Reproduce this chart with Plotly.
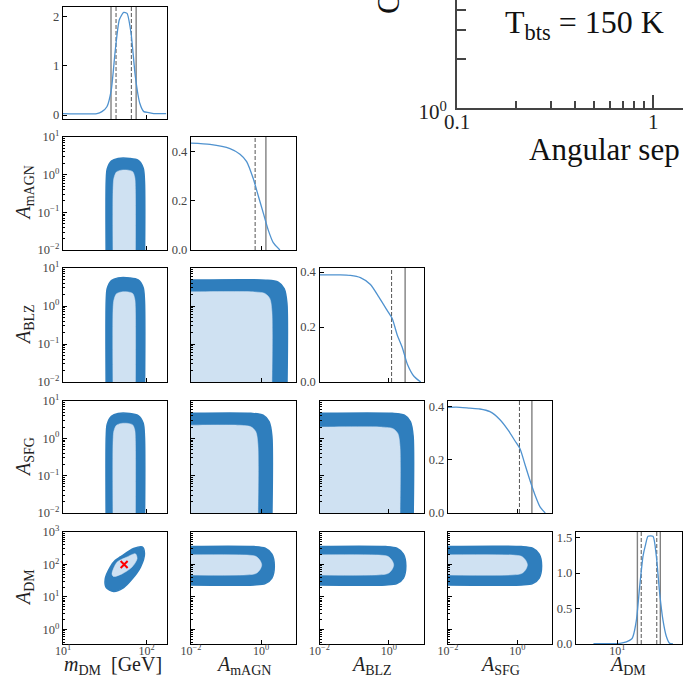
import numpy as np
import plotly.graph_objects as go

# ---------------- marginal posteriors (log10 of parameter, density) ----------------
mdm_log = [1.0, 1.406, 1.466, 1.526, 1.578, 1.627, 1.675, 1.727, 1.767, 1.815, 1.867, 1.92, 1.968, 2.028, 2.088, 2.237]
mdm_pdf = [0.03, 0.03, 0.07, 0.17, 0.51, 1.33, 1.94, 2.09, 2.07, 1.67, 0.78, 0.24, 0.07, 0.05, 0.03, 0.03]

amagn_log = [-2.0, -1.457, -0.886, -0.6, -0.41, -0.22, -0.077, 0.066, 0.21, 0.35, 0.54]
amagn_pdf = [0.435, 0.43, 0.413, 0.39, 0.36, 0.29, 0.22, 0.15, 0.08, 0.03, 0.0]

ablz_log = [-2.0, -1.4, -1.11, -0.82, -0.53, -0.29, -0.045, 0.1, 0.245, 0.39, 0.535, 0.73, 0.92]
ablz_pdf = [0.39, 0.39, 0.388, 0.38, 0.355, 0.31, 0.26, 0.23, 0.17, 0.125, 0.065, 0.02, 0.0]

asfg_log = [-2.0, -1.76, -1.37, -1.08, -0.79, -0.5, -0.26, -0.065, 0.08, 0.225, 0.37, 0.515, 0.66, 0.805]
asfg_pdf = [0.396, 0.397, 0.393, 0.39, 0.38, 0.35, 0.31, 0.27, 0.24, 0.18, 0.12, 0.066, 0.022, 0.0]

adm_log = [0.63, 1.04, 1.14, 1.22, 1.243, 1.295, 1.346, 1.397, 1.438, 1.474, 1.551, 1.603, 1.654, 1.705, 1.757, 1.808, 1.86]
adm_pdf = [0.005, 0.01, 0.03, 0.07, 0.11, 0.34, 0.82, 1.24, 1.41, 1.52, 1.52, 1.24, 0.72, 0.34, 0.11, 0.01, 0.0]

# credible-interval bounds (dashed = 68 %, solid = 95 %)
mdm_q68 = [43.2, 65.9]
mdm_q95 = [37.6, 75.2]
amagn_q68 = [0.68]
amagn_q95 = [1.38]
ablz_q68 = [1.2]
ablz_q95 = [2.95]
asfg_q68 = [1.15]
asfg_q95 = [2.63]
adm_q68 = [23.4, 40.7]
adm_q95 = [20.4, 46.2]

# best-fit point in the (m_DM, A_DM) plane
bestfit_mdm = [54.0]
bestfit_adm = [100.0]

# ---------------- 2D credible regions (log10 coordinates) ----------------
# m_DM columns: vertical bands
mdm_band95_x = [1.518, 1.518, 1.53, 1.58, 1.66, 1.80, 1.90, 1.96, 1.976, 1.976]
mdm_band68_x = [1.60, 1.60, 1.61, 1.64, 1.70, 1.78, 1.835, 1.86, 1.867, 1.867]
amagn_mdm95_y = [-2.5, -0.17, 0.15, 0.36, 0.43, 0.43, 0.38, 0.18, -0.17, -2.5]
amagn_mdm68_y = [-2.5, -0.37, -0.09, 0.07, 0.12, 0.12, 0.08, -0.07, -0.37, -2.5]
ablz_mdm95_y = [-2.5, 0.15, 0.46, 0.67, 0.74, 0.74, 0.69, 0.49, 0.15, -2.5]
ablz_mdm68_y = [-2.5, -0.05, 0.16, 0.32, 0.37, 0.37, 0.33, 0.18, -0.05, -2.5]
asfg_mdm95_y = [-2.5, 0.05, 0.38, 0.59, 0.665, 0.665, 0.61, 0.41, 0.05, -2.5]
asfg_mdm68_y = [-2.5, -0.05, 0.20, 0.35, 0.40, 0.40, 0.36, 0.22, -0.05, -2.5]

# tilted ellipse in (m_DM, A_DM)
adm_mdm95_x = [1.506, 1.566, 1.627, 1.687, 1.847, 1.948, 1.976, 1.928, 1.827, 1.727, 1.606, 1.518, 1.506]
adm_mdm95_y = [1.55, 1.92, 2.125, 2.23, 2.49, 2.54, 2.33, 1.92, 1.55, 1.29, 1.17, 1.29, 1.55]
adm_mdm68_x = [1.587, 1.647, 1.767, 1.867, 1.888, 1.827, 1.707, 1.606, 1.587]
adm_mdm68_y = [1.71, 2.07, 2.23, 2.33, 2.18, 1.92, 1.71, 1.63, 1.71]

# amplitude-amplitude planes: regions open towards small amplitudes
ablz_amagn95_x = [-2.6, -2.6, -2.3, 0.14, 0.49, 0.66, 0.74, 0.74, 0.74, -2.6]
ablz_amagn95_y = [-2.6, 0.68, 0.68, 0.68, 0.63, 0.46, 0.08, -2.3, -2.6, -2.6]
ablz_amagn68_x = [-2.6, -2.6, -2.3, -0.19, 0.11, 0.25, 0.31, 0.31, 0.31, -2.6]
ablz_amagn68_y = [-2.6, 0.37, 0.37, 0.37, 0.33, 0.20, -0.13, -2.3, -2.6, -2.6]

asfg_amagn95_x = [-2.6, -2.6, -2.3, -0.29, 0.06, 0.23, 0.31, 0.31, 0.31, -2.6]
asfg_amagn95_y = [-2.6, 0.67, 0.67, 0.67, 0.62, 0.45, 0.07, -2.3, -2.6, -2.6]
asfg_amagn68_x = [-2.6, -2.6, -2.3, -0.59, -0.29, -0.15, -0.09, -0.09, -0.09, -2.6]
asfg_amagn68_y = [-2.6, 0.35, 0.35, 0.35, 0.31, 0.18, -0.15, -2.3, -2.6, -2.6]

asfg_ablz95_x = [-2.6, -2.6, -2.3, 0.10, 0.45, 0.62, 0.70, 0.70, 0.70, -2.6]
asfg_ablz95_y = [-2.6, 0.67, 0.67, 0.67, 0.62, 0.45, 0.07, -2.3, -2.6, -2.6]
asfg_ablz68_x = [-2.6, -2.6, -2.3, -0.18, 0.12, 0.26, 0.32, 0.32, 0.32, -2.6]
asfg_ablz68_y = [-2.6, 0.30, 0.30, 0.30, 0.26, 0.13, -0.20, -2.3, -2.6, -2.6]

# A_DM rows: horizontal bands
adm_band95_y = [2.55, 2.55, 2.50, 2.32, 1.96, 1.58, 1.41, 1.37, 1.37]
adm_band68_y = [2.29, 2.29, 2.25, 2.13, 1.985, 1.84, 1.72, 1.68, 1.68]
adm_amagn95_x = [-2.5, -0.20, 0.12, 0.31, 0.38, 0.31, 0.12, -0.20, -2.5]
adm_amagn68_x = [-2.5, -0.40, -0.15, -0.03, 0.02, -0.03, -0.15, -0.40, -2.5]
adm_ablz95_x = [-2.5, -0.09, 0.23, 0.42, 0.49, 0.42, 0.23, -0.09, -2.5]
adm_ablz68_x = [-2.5, -0.28, -0.03, 0.09, 0.14, 0.09, -0.03, -0.28, -2.5]
adm_asfg95_x = [-2.5, 0.12, 0.44, 0.63, 0.70, 0.63, 0.44, 0.12, -2.5]
adm_asfg68_x = [-2.5, -0.13, 0.12, 0.24, 0.29, 0.24, 0.12, -0.13, -2.5]

# ---------------- parameter labels and axis ticks ----------------
param_titles = ["<i>m</i><sub>DM</sub>  [GeV]", "<i>A</i><sub>mAGN</sub>", "<i>A</i><sub>BLZ</sub>",
                "<i>A</i><sub>SFG</sub>", "<i>A</i><sub>DM</sub>"]
param_range = [[1.0, 2.24], [-2.0, 1.0], [-2.0, 1.0], [-2.0, 1.0], [-0.45, 3.0]]
x_tickvals = [[10, 100], [0.01, 1], [0.01, 1], [0.01, 1], [10, 100]]
x_ticktext = [["10<sup>1</sup>", "10<sup>2</sup>"], ["10<sup>−2</sup>", "10<sup>0</sup>"],
              ["10<sup>−2</sup>", "10<sup>0</sup>"], ["10<sup>−2</sup>", "10<sup>0</sup>"],
              ["10<sup>1</sup>", "10<sup>2</sup>"]]
y_tickvals = [None, [0.01, 0.1, 1, 10], [0.01, 0.1, 1, 10], [0.01, 0.1, 1, 10], [1, 10, 100, 1000]]
y_ticktext = [None,
              ["10<sup>−2</sup>", "10<sup>−1</sup>", "10<sup>0</sup>", "10<sup>1</sup>"],
              ["10<sup>−2</sup>", "10<sup>−1</sup>", "10<sup>0</sup>", "10<sup>1</sup>"],
              ["10<sup>−2</sup>", "10<sup>−1</sup>", "10<sup>0</sup>", "10<sup>1</sup>"],
              ["10<sup>0</sup>", "10<sup>1</sup>", "10<sup>2</sup>", "10<sup>3</sup>"]]
hist_x_range4 = [0.36, 2.0]
hist_y_range = [[-0.08, 2.2], [0, 0.46], [0, 0.415], [0, 0.42], [0, 1.58]]
hist_y_ticks = [[0, 1, 2], [0, 0.2, 0.4], [0, 0.2, 0.4], [0, 0.2, 0.4], [0, 0.5, 1.0, 1.5]]
hist_y_text = [["0", "1", "2"], ["0.0", "0.2", "0.4"], ["0.0", "0.2", "0.4"], ["0.0", "0.2", "0.4"],
               ["0.0", "0.5", "1.0", "1.5"]]

# ---------------- angular cross-correlation panel (partial) ----------------
ang_x_range = [0.1, 1.42]
ang_y_range = [1.0, 4.6]
ang_x_ticks = [0.1, 1]
ang_x_text = ["0.1", "1"]
ang_x_minor = [0.2, 0.3, 0.4, 0.5, 0.6, 0.7, 0.8, 0.9]
ang_y_ticks = [1]
ang_y_text = ["10<sup>0</sup>"]
ang_y_minor = [2, 3, 4]

# ---------------- styling ----------------
W, H = 683, 680
COLS = [(63, 166.5), (191, 296), (319.5, 423.5), (448, 552), (576, 682)]
ROWS = [(7, 119), (137, 250), (268, 382), (401, 513), (532, 644)]
DARK = "#2f7ebd"
LIGHT = "#cfe1f2"
HISTC = "#4f92cf"
FONT = "Liberation Serif"
TICKC = "#444444"

fig = go.Figure()

axis_id = {}
k = 0
for r in range(5):
    for c in range(r + 1):
        k += 1
        axis_id[(r, c)] = k


def refs(r, c):
    i = axis_id[(r, c)]
    return ("x" if i == 1 else f"x{i}"), ("y" if i == 1 else f"y{i}")


def logv(a):
    return 10 ** np.asarray(a, dtype=float)


# diagonal: marginal posteriors
hists = [(mdm_log, mdm_pdf, mdm_q68, mdm_q95), (amagn_log, amagn_pdf, amagn_q68, amagn_q95),
         (ablz_log, ablz_pdf, ablz_q68, ablz_q95), (asfg_log, asfg_pdf, asfg_q68, asfg_q95),
         (adm_log, adm_pdf, adm_q68, adm_q95)]
for d, (xl, pdf, q68, q95) in enumerate(hists):
    xr, yr = refs(d, d)
    lo, hi = hist_y_range[d]
    for q in q95:
        fig.add_trace(go.Scatter(x=[q, q], y=[lo, hi], xaxis=xr, yaxis=yr, mode="lines",
                                 line=dict(color="#808080", width=1.4), hoverinfo="skip"))
    for q in q68:
        fig.add_trace(go.Scatter(x=[q, q], y=[lo, hi], xaxis=xr, yaxis=yr, mode="lines",
                                 line=dict(color="#555555", width=1, dash="4px,2px"), hoverinfo="skip"))
    fig.add_trace(go.Scatter(x=logv(xl), y=pdf, xaxis=xr, yaxis=yr, mode="lines",
                             line=dict(color=HISTC, width=1.3, shape="spline", smoothing=0.6)))

# off-diagonal: 68 / 95 % regions
regions = {
    (1, 0): (mdm_band95_x, amagn_mdm95_y, mdm_band68_x, amagn_mdm68_y),
    (2, 0): (mdm_band95_x, ablz_mdm95_y, mdm_band68_x, ablz_mdm68_y),
    (3, 0): (mdm_band95_x, asfg_mdm95_y, mdm_band68_x, asfg_mdm68_y),
    (4, 0): (adm_mdm95_x, adm_mdm95_y, adm_mdm68_x, adm_mdm68_y),
    (2, 1): (ablz_amagn95_x, ablz_amagn95_y, ablz_amagn68_x, ablz_amagn68_y),
    (3, 1): (asfg_amagn95_x, asfg_amagn95_y, asfg_amagn68_x, asfg_amagn68_y),
    (3, 2): (asfg_ablz95_x, asfg_ablz95_y, asfg_ablz68_x, asfg_ablz68_y),
    (4, 1): (adm_amagn95_x, adm_band95_y, adm_amagn68_x, adm_band68_y),
    (4, 2): (adm_ablz95_x, adm_band95_y, adm_ablz68_x, adm_band68_y),
    (4, 3): (adm_asfg95_x, adm_band95_y, adm_asfg68_x, adm_band68_y),
}
for (r, c), (ox, oy, ix, iy) in regions.items():
    xr, yr = refs(r, c)
    fig.add_trace(go.Scatter(x=logv(ox), y=logv(oy), xaxis=xr, yaxis=yr, mode="lines", fill="toself",
                             fillcolor=DARK, line=dict(color=DARK, width=1.5, shape="spline", smoothing=0.8),
                             hoverinfo="skip"))
    fig.add_trace(go.Scatter(x=logv(ix), y=logv(iy), xaxis=xr, yaxis=yr, mode="lines", fill="toself",
                             fillcolor=LIGHT, line=dict(color=LIGHT, width=0.5, shape="spline", smoothing=0.8),
                             hoverinfo="skip"))

xr, yr = refs(4, 0)
fig.add_trace(go.Scatter(x=bestfit_mdm, y=bestfit_adm, xaxis=xr, yaxis=yr, mode="markers",
                         marker=dict(symbol="x-thin", size=7, color="red", line=dict(color="red", width=2))))

# invisible anchor trace so the angular panel's axes are drawn
fig.add_trace(go.Scatter(x=ang_x_range, y=ang_y_range, xaxis="x16", yaxis="y16", mode="markers",
                         marker=dict(opacity=0), hoverinfo="skip"))

# axes of the corner plot
frame = dict(showline=True, mirror=True, linecolor="black", linewidth=1.3, ticks="inside",
             ticklen=4, tickwidth=1, tickcolor="black", showgrid=False, zeroline=False,
             tickfont=dict(family=FONT, size=12.5, color=TICKC))
layout_axes = {}
for (r, c), i in axis_id.items():
    xname = "xaxis" if i == 1 else f"xaxis{i}"
    yname = "yaxis" if i == 1 else f"yaxis{i}"
    xdom = [COLS[c][0] / W, COLS[c][1] / W]
    ydom = [1 - ROWS[r][1] / H, 1 - ROWS[r][0] / H]
    xrng = hist_x_range4 if (r == 4 and c == 4) else param_range[c]
    xa = dict(frame, type="log", domain=xdom, range=xrng, anchor=f"y{i}" if i > 1 else "y",
              tickmode="array", tickvals=x_tickvals[c], ticktext=x_ticktext[c], showticklabels=(r == 4),
              ticklabelstandoff=-5)
    xa["tickfont"] = dict(family=FONT, size=12, color=TICKC)
    if r == c:
        ya = dict(frame, type="linear", domain=ydom, range=hist_y_range[r], anchor=f"x{i}" if i > 1 else "x",
                  tickmode="array", tickvals=hist_y_ticks[r], ticktext=hist_y_text[r], showticklabels=True)
    else:
        dec = np.arange(np.floor(param_range[r][0]), np.ceil(param_range[r][1]))
        minor_vals = [m * 10.0 ** e for e in dec for m in range(2, 10)]
        ya = dict(frame, type="log", domain=ydom, range=param_range[r], anchor=f"x{i}" if i > 1 else "x",
                  tickmode="array", tickvals=y_tickvals[r], ticktext=y_ticktext[r], showticklabels=(c == 0),
                  minor=dict(ticks="inside", ticklen=2, tickwidth=0.8, tickcolor="black",
                             tickmode="array", tickvals=minor_vals, showgrid=False))
    layout_axes[xname] = xa
    layout_axes[yname] = ya

# partial angular cross-correlation panel in the upper right
ang_font = dict(family=FONT, size=21, color="#222222")
layout_axes["xaxis16"] = dict(type="log", domain=[457 / W, 1.0], range=np.log10(ang_x_range).tolist(),
                              anchor="y16", showline=True, mirror=False, linecolor="#444444", linewidth=2,
                              showgrid=False, zeroline=False, ticks="inside", ticklen=13, tickwidth=1.5,
                              tickcolor="#444444", tickmode="array", tickvals=ang_x_ticks, ticktext=ang_x_text,
                              tickfont=ang_font, ticklabelstandoff=-6,
                              minor=dict(ticks="inside", ticklen=7, tickwidth=1.5, tickcolor="#444444",
                                         tickmode="array", tickvals=ang_x_minor, showgrid=False))
layout_axes["yaxis16"] = dict(type="log", domain=[1 - 108 / H, 1.0], range=np.log10(ang_y_range).tolist(),
                              anchor="x16", showline=True, mirror=False, linecolor="#444444", linewidth=2,
                              showgrid=False, zeroline=False, ticks="inside", ticklen=13, tickwidth=1.5,
                              tickcolor="#444444", tickmode="array", tickvals=ang_y_ticks, ticktext=ang_y_text,
                              tickfont=ang_font, ticklabelstandoff=4, ticklabelshift=4,
                              minor=dict(ticks="inside", ticklen=9, tickwidth=1.5, tickcolor="#444444",
                                         tickmode="array", tickvals=ang_y_minor, showgrid=False))

fig.update_layout(width=W, height=H, autosize=False,
                  margin=dict(l=0, r=0, t=0, b=0, pad=0, autoexpand=False),
                  paper_bgcolor="white", plot_bgcolor="rgba(0,0,0,0)", showlegend=False,
                  font=dict(family=FONT), **layout_axes)

# axis titles of the corner plot
ann = []
x_title_px = [113, 243, 371, 500, 627]
for c, t in enumerate(param_titles):
    ann.append(dict(text=t, x=x_title_px[c] / W, y=1 - 665 / H, xref="paper", yref="paper",
                    xanchor="center", yanchor="middle", showarrow=False,
                    font=dict(family=FONT, size=20, color="#222222")))
for r in range(1, 5):
    yc = (ROWS[r][0] + ROWS[r][1]) / 2
    ann.append(dict(text=param_titles[r], x=24 / W, y=1 - yc / H, xref="paper", yref="paper",
                    xanchor="center", yanchor="middle", textangle=-90, showarrow=False,
                    font=dict(family=FONT, size=20, color="#222222")))

# labels of the angular panel
ann.append(dict(text="T<sub>bts</sub> = 150 K", x=503 / W, y=1 - 25 / H, xref="paper", yref="paper",
                xanchor="left", yanchor="middle", showarrow=False,
                font=dict(family=FONT, size=32, color="#111111")))
ann.append(dict(text="Angular sep", x=527 / W, y=1 - 149 / H, xref="paper", yref="paper",
                xanchor="left", yanchor="middle", showarrow=False,
                font=dict(family=FONT, size=31, color="#111111")))
ann.append(dict(text="C", x=389 / W, y=1 - 4 / H, xref="paper", yref="paper",
                xanchor="center", yanchor="middle", textangle=-90, showarrow=False,
                font=dict(family=FONT, size=31, color="#111111")))
fig.update_layout(annotations=ann)

fig.write_html("out.html")
